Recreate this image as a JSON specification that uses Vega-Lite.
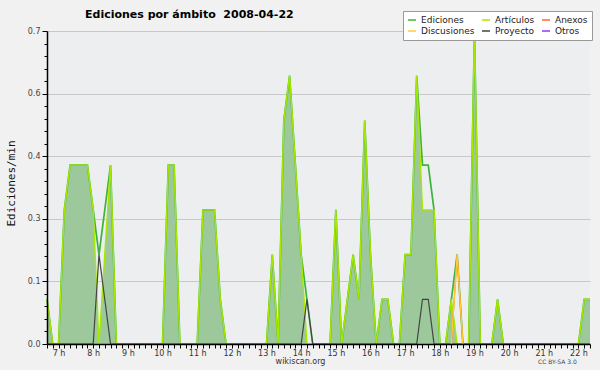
{
  "$schema": "https://vega.github.io/schema/vega-lite/v6.json",
  "width": 543,
  "height": 313,
  "autosize": {"type": "none"},
  "padding": {"left": 47, "top": 31, "right": 10, "bottom": 26},
  "background": "#f1f1f1",
  "config": {"view": {"fill": "#eceef0", "stroke": null}, "font": "DejaVu Sans", "axis": {"labelOverlap": false}},
  "title": {"text": "Ediciones por ámbito\u00a0 2008-04-22", "anchor": "start", "dx": 38, "dy": 11, "fontSize": 11, "fontWeight": "bold", "font": "DejaVu Sans", "color": "#000000", "offset": -7, "baseline": "alphabetic", "frame": "group"},
  "datasets": {
    "main": [
      {"m":400,"Ediciones":0.1,"Artículos":0.1,"Proyecto":0},
      {"m":410,"Ediciones":0,"Artículos":0,"Proyecto":0},
      {"m":420,"Ediciones":0,"Artículos":0,"Proyecto":0},
      {"m":430,"Ediciones":0.3,"Artículos":0.3,"Proyecto":0},
      {"m":440,"Ediciones":0.4,"Artículos":0.4,"Proyecto":0},
      {"m":450,"Ediciones":0.4,"Artículos":0.4,"Proyecto":0},
      {"m":460,"Ediciones":0.4,"Artículos":0.4,"Proyecto":0},
      {"m":470,"Ediciones":0.4,"Artículos":0.4,"Proyecto":0},
      {"m":480,"Ediciones":0.3,"Artículos":0.3,"Proyecto":0},
      {"m":490,"Ediciones":0.2,"Artículos":0,"Proyecto":0.2},
      {"m":500,"Ediciones":0.3,"Artículos":0.2,"Proyecto":0.1},
      {"m":510,"Ediciones":0.4,"Artículos":0.4,"Proyecto":0},
      {"m":520,"Ediciones":0,"Artículos":0,"Proyecto":0},
      {"m":530,"Ediciones":0,"Artículos":0,"Proyecto":0},
      {"m":540,"Ediciones":0,"Artículos":0,"Proyecto":0},
      {"m":550,"Ediciones":0,"Artículos":0,"Proyecto":0},
      {"m":560,"Ediciones":0,"Artículos":0,"Proyecto":0},
      {"m":570,"Ediciones":0,"Artículos":0,"Proyecto":0},
      {"m":580,"Ediciones":0,"Artículos":0,"Proyecto":0},
      {"m":590,"Ediciones":0,"Artículos":0,"Proyecto":0},
      {"m":600,"Ediciones":0,"Artículos":0,"Proyecto":0},
      {"m":610,"Ediciones":0.4,"Artículos":0.4,"Proyecto":0},
      {"m":620,"Ediciones":0.4,"Artículos":0.4,"Proyecto":0},
      {"m":630,"Ediciones":0,"Artículos":0,"Proyecto":0},
      {"m":640,"Ediciones":0,"Artículos":0,"Proyecto":0},
      {"m":650,"Ediciones":0,"Artículos":0,"Proyecto":0},
      {"m":660,"Ediciones":0,"Artículos":0,"Proyecto":0},
      {"m":670,"Ediciones":0.3,"Artículos":0.3,"Proyecto":0},
      {"m":680,"Ediciones":0.3,"Artículos":0.3,"Proyecto":0},
      {"m":690,"Ediciones":0.3,"Artículos":0.3,"Proyecto":0},
      {"m":700,"Ediciones":0.1,"Artículos":0.1,"Proyecto":0},
      {"m":710,"Ediciones":0,"Artículos":0,"Proyecto":0},
      {"m":720,"Ediciones":0,"Artículos":0,"Proyecto":0},
      {"m":730,"Ediciones":0,"Artículos":0,"Proyecto":0},
      {"m":740,"Ediciones":0,"Artículos":0,"Proyecto":0},
      {"m":750,"Ediciones":0,"Artículos":0,"Proyecto":0},
      {"m":760,"Ediciones":0,"Artículos":0,"Proyecto":0},
      {"m":770,"Ediciones":0,"Artículos":0,"Proyecto":0},
      {"m":780,"Ediciones":0,"Artículos":0,"Proyecto":0},
      {"m":790,"Ediciones":0.2,"Artículos":0.2,"Proyecto":0},
      {"m":800,"Ediciones":0,"Artículos":0,"Proyecto":0},
      {"m":810,"Ediciones":0.5,"Artículos":0.5,"Proyecto":0},
      {"m":820,"Ediciones":0.6,"Artículos":0.6,"Proyecto":0},
      {"m":830,"Ediciones":0.4,"Artículos":0.4,"Proyecto":0},
      {"m":840,"Ediciones":0.2,"Artículos":0.2,"Proyecto":0},
      {"m":850,"Ediciones":0.1,"Artículos":0,"Proyecto":0.1},
      {"m":860,"Ediciones":0,"Artículos":0,"Proyecto":0},
      {"m":870,"Ediciones":0,"Artículos":0,"Proyecto":0},
      {"m":880,"Ediciones":0,"Artículos":0,"Proyecto":0},
      {"m":890,"Ediciones":0,"Artículos":0,"Proyecto":0},
      {"m":900,"Ediciones":0.3,"Artículos":0.3,"Proyecto":0},
      {"m":910,"Ediciones":0,"Artículos":0,"Proyecto":0},
      {"m":920,"Ediciones":0.1,"Artículos":0.1,"Proyecto":0},
      {"m":930,"Ediciones":0.2,"Artículos":0.2,"Proyecto":0},
      {"m":940,"Ediciones":0.1,"Artículos":0.1,"Proyecto":0},
      {"m":950,"Ediciones":0.5,"Artículos":0.5,"Proyecto":0},
      {"m":960,"Ediciones":0.2,"Artículos":0.2,"Proyecto":0},
      {"m":970,"Ediciones":0,"Artículos":0,"Proyecto":0},
      {"m":980,"Ediciones":0.1,"Artículos":0.1,"Proyecto":0},
      {"m":990,"Ediciones":0.1,"Artículos":0.1,"Proyecto":0},
      {"m":1000,"Ediciones":0,"Artículos":0,"Proyecto":0},
      {"m":1010,"Ediciones":0,"Artículos":0,"Proyecto":0},
      {"m":1020,"Ediciones":0.2,"Artículos":0.2,"Proyecto":0},
      {"m":1030,"Ediciones":0.2,"Artículos":0.2,"Proyecto":0},
      {"m":1040,"Ediciones":0.6,"Artículos":0.6,"Proyecto":0},
      {"m":1050,"Ediciones":0.4,"Artículos":0.3,"Proyecto":0.1},
      {"m":1060,"Ediciones":0.4,"Artículos":0.3,"Proyecto":0.1},
      {"m":1070,"Ediciones":0.3,"Artículos":0.3,"Proyecto":0},
      {"m":1080,"Ediciones":0,"Artículos":0,"Proyecto":0},
      {"m":1090,"Ediciones":0,"Artículos":0,"Proyecto":0},
      {"m":1100,"Ediciones":0.1,"Artículos":0.1,"Proyecto":0},
      {"m":1110,"Ediciones":0.2,"Artículos":0,"Proyecto":0},
      {"m":1120,"Ediciones":0,"Artículos":0,"Proyecto":0},
      {"m":1130,"Ediciones":0,"Artículos":0,"Proyecto":0},
      {"m":1140,"Ediciones":0.7,"Artículos":0.7,"Proyecto":0},
      {"m":1150,"Ediciones":0,"Artículos":0,"Proyecto":0},
      {"m":1160,"Ediciones":0,"Artículos":0,"Proyecto":0},
      {"m":1170,"Ediciones":0,"Artículos":0,"Proyecto":0},
      {"m":1180,"Ediciones":0.1,"Artículos":0.1,"Proyecto":0},
      {"m":1190,"Ediciones":0,"Artículos":0,"Proyecto":0},
      {"m":1200,"Ediciones":0,"Artículos":0,"Proyecto":0},
      {"m":1210,"Ediciones":0,"Artículos":0,"Proyecto":0},
      {"m":1220,"Ediciones":0,"Artículos":0,"Proyecto":0},
      {"m":1230,"Ediciones":0,"Artículos":0,"Proyecto":0},
      {"m":1240,"Ediciones":0,"Artículos":0,"Proyecto":0},
      {"m":1250,"Ediciones":0,"Artículos":0,"Proyecto":0},
      {"m":1260,"Ediciones":0,"Artículos":0,"Proyecto":0},
      {"m":1270,"Ediciones":0,"Artículos":0,"Proyecto":0},
      {"m":1280,"Ediciones":0,"Artículos":0,"Proyecto":0},
      {"m":1290,"Ediciones":0,"Artículos":0,"Proyecto":0},
      {"m":1300,"Ediciones":0,"Artículos":0,"Proyecto":0},
      {"m":1310,"Ediciones":0,"Artículos":0,"Proyecto":0},
      {"m":1320,"Ediciones":0,"Artículos":0,"Proyecto":0},
      {"m":1330,"Ediciones":0.1,"Artículos":0.1,"Proyecto":0},
      {"m":1340,"Ediciones":0.1,"Artículos":0.1,"Proyecto":0}
    ],
    "talk": [
      {"m":1100,"Discusiones":0,"Anexos":0},
      {"m":1110,"Discusiones":0.2,"Anexos":0.2},
      {"m":1120,"Discusiones":0,"Anexos":0}
    ]
  },
  "layer": [
    {
      "data": {"name": "main"},
      "mark": {"type": "area", "fill": "#9cc89c", "opacity": 1},
      "encoding": {
        "x": {"field": "m", "type": "quantitative", "scale": {"domain": [400, 1340], "nice": false, "zero": false},
          "axis": {
            "values": [400,410,420,430,440,450,460,470,480,490,500,510,520,530,540,550,560,570,580,590,600,610,620,630,640,650,660,670,680,690,700,710,720,730,740,750,760,770,780,790,800,810,820,830,840,850,860,870,880,890,900,910,920,930,940,950,960,970,980,990,1000,1010,1020,1030,1040,1050,1060,1070,1080,1090,1100,1110,1120,1130,1140,1150,1160,1170,1180,1190,1200,1210,1220,1230,1240,1250,1260,1270,1280,1290,1300,1310,1320,1330,1340],
            "tickCount": 200,
            "labelExpr": "datum.value % 60 === 0 ? (datum.value / 60) + ' h' : ''",
            "labelOverlap": false, "labelFlush": false,
            "labelFontSize": 8, "labelColor": "#333333", "labelPadding": 1,
            "tickSize": 4, "tickColor": "#000000", "tickWidth": 1,
            "domainColor": "#000000", "domainWidth": 1.5,
            "grid": false, "zindex": 1,
            "title": "wikiscan.org", "titleFontSize": 8, "titleFontWeight": "normal", "titleColor": "#333333",
            "titleX": 253, "titleY": 19, "titleBaseline": "alphabetic", "titleAlign": "center"
          }},
        "y": {"field": "Artículos", "type": "quantitative", "scale": {"domain": [0, 0.7], "nice": false},
          "axis": {"orient": "right", "values": [0.14, 0.28, 0.42, 0.56, 0.7], "tickCount": 20, "grid": true, "gridColor": "#c8c8c8", "gridWidth": 1,
            "domain": false, "ticks": false, "labels": false, "title": null, "zindex": 0}}
      }
    },
    {
      "layer": [
        {
          "data": {"name": "main"},
          "mark": {"type": "line", "strokeWidth": 1.7},
          "encoding": {
            "x": {"field": "m", "type": "quantitative"},
            "y": {"field": "Ediciones", "type": "quantitative", "scale": {"domain": [0, 0.7], "nice": false},
              "axis": {
                "orient": "left",
                "values": [0,0.028,0.056,0.084,0.112,0.14,0.168,0.196,0.224,0.252,0.28,0.308,0.336,0.364,0.392,0.42,0.448,0.476,0.504,0.532,0.56,0.588,0.616,0.644,0.672,0.7],
                "tickCount": 100,
                "grid": false,
                "domainColor": "#000000", "domainWidth": 1.5,
                "tickColor": "#000000",
                "tickSize": {"condition": {"test": "round(datum.value / 0.028) % 5 === 0", "value": 5}, "value": 3},
                "labelExpr": "round(datum.value / 0.028) % 5 === 0 ? format(datum.value, '.1f') : ''",
                "labelOverlap": false, "labelFlush": false,
                "labelFontSize": 8, "labelColor": "#444444", "labelPadding": 2,
                "title": "Ediciones/min", "titleFont": "DejaVu Sans Mono", "titleFontSize": 11, "titleFontWeight": "normal", "titleColor": "#111111",
                "titleX": -33, "titleY": 152, "titleAngle": -90, "titleBaseline": "alphabetic", "titleAlign": "center",
                "zindex": 1
              }},
            "color": {"datum": "Ediciones", "type": "nominal",
              "scale": {"domain": ["Ediciones", "Discusiones", "Artículos", "Proyecto", "Anexos", "Otros"],
                        "range": ["#3cb43c", "#ffcc33", "#a8e800", "#444444", "#ff6633", "#9933ff"]},
              "legend": {"orient": "none", "legendX": 356, "legendY": -20, "columns": 3, "title": null,
                "symbolType": "stroke", "symbolSize": 64, "symbolStrokeWidth": 1.5,
                "labelFontSize": 9, "labelFont": "DejaVu Sans", "labelColor": "#222222", "labelOffset": 4,
                "padding": 4, "fillColor": "#ffffff", "strokeColor": "#999999",
                "rowPadding": 1, "columnPadding": 4}}
          }
        },
        {
          "data": {"name": "main"},
          "mark": {"type": "line", "strokeWidth": 1.4},
          "encoding": {
            "x": {"field": "m", "type": "quantitative"},
            "y": {"field": "Artículos", "type": "quantitative"},
            "color": {"datum": "Artículos", "type": "nominal"}
          }
        },
        {
          "data": {"name": "main"},
          "mark": {"type": "line", "strokeWidth": 1.2},
          "encoding": {
            "x": {"field": "m", "type": "quantitative"},
            "y": {"field": "Proyecto", "type": "quantitative"},
            "color": {"datum": "Proyecto", "type": "nominal"}
          }
        },
        {
          "data": {"name": "talk"},
          "mark": {"type": "line", "strokeWidth": 1.2},
          "encoding": {
            "x": {"field": "m", "type": "quantitative"},
            "y": {"field": "Anexos", "type": "quantitative"},
            "color": {"datum": "Anexos", "type": "nominal"}
          }
        },
        {
          "data": {"name": "talk"},
          "mark": {"type": "line", "strokeWidth": 1.3},
          "encoding": {
            "x": {"field": "m", "type": "quantitative"},
            "y": {"field": "Discusiones", "type": "quantitative"},
            "color": {"datum": "Discusiones", "type": "nominal"}
          }
        },
        {
          "data": {"values": [{"t": "CC BY-SA 3.0"}]},
          "mark": {"type": "text", "align": "right", "baseline": "middle", "fontSize": 6, "color": "#444444"},
          "encoding": {
            "x": {"datum": 1317, "type": "quantitative"},
            "y": {"datum": -0.04, "type": "quantitative"},
            "text": {"field": "t"}
          }
        }
      ]
    }
  ],
  "resolve": {"axis": {"y": "independent"}}
}
